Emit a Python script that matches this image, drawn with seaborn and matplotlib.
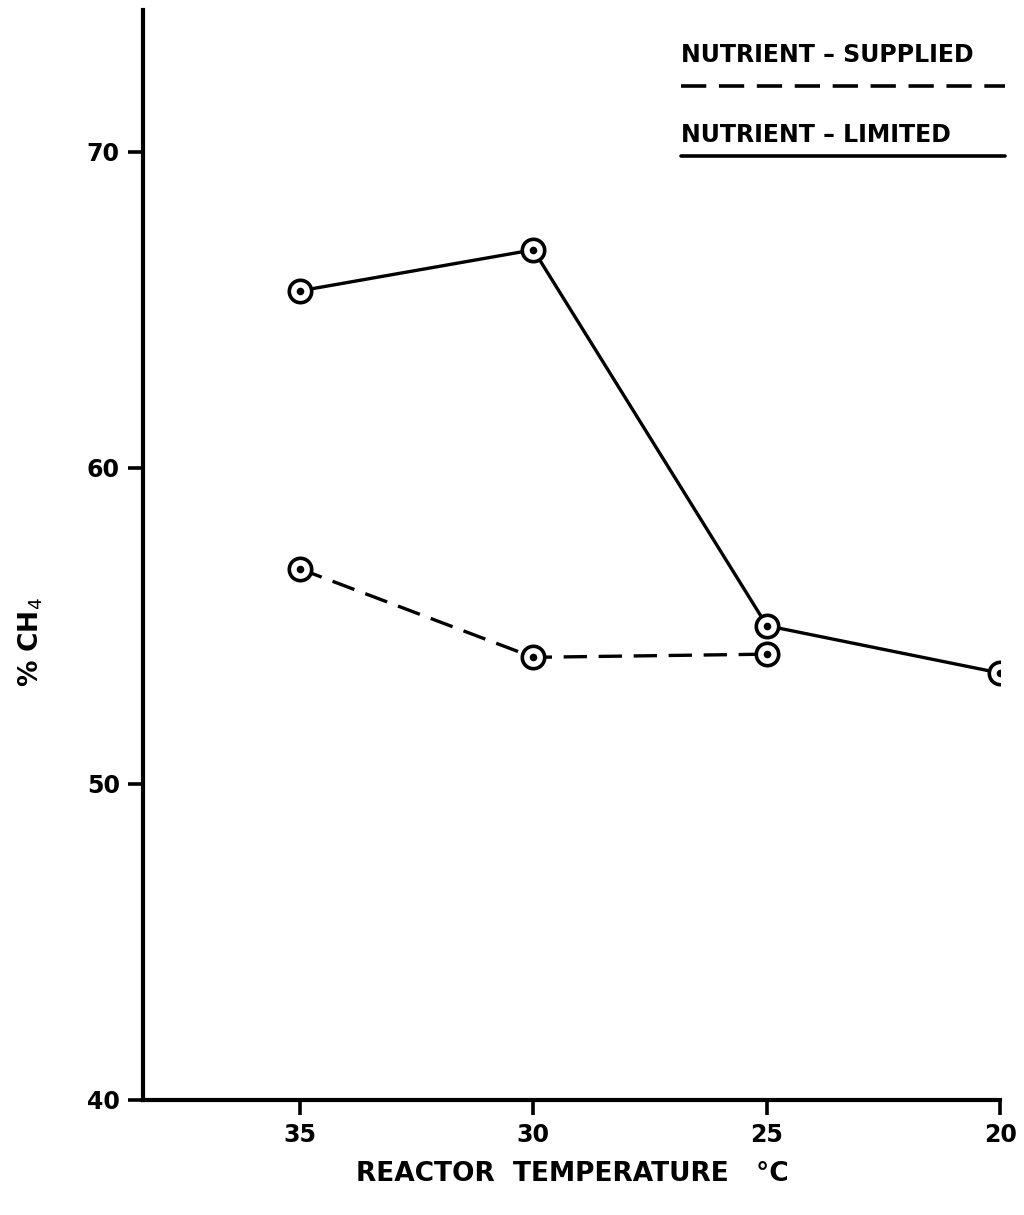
import matplotlib
matplotlib.use("Agg")
import matplotlib.pyplot as plt
import seaborn as sns
import pandas as pd

# Methane content of reactor gas versus reactor temperature
temps_limited = [35, 30, 25, 20]
ch4_limited = [65.6, 66.9, 55.0, 53.5]
temps_supplied = [35, 30, 25]
ch4_supplied = [56.8, 54.0, 54.1]
x_ticks = [35, 30, 25, 20]
y_ticks = [40, 50, 60, 70]

df = pd.concat([
    pd.DataFrame({"temp": temps_limited, "ch4": ch4_limited, "series": "limited"}),
    pd.DataFrame({"temp": temps_supplied, "ch4": ch4_supplied, "series": "supplied"}),
], ignore_index=True)

sns.set_style("ticks")
plt.rcParams["font.family"] = ["DejaVu Sans"]
plt.rcParams["mathtext.fontset"] = "dejavusans"
plt.rcParams["text.color"] = "black"
plt.rcParams["axes.labelcolor"] = "black"

fig = plt.figure(figsize=(10.24, 12.15), dpi=100)
ax = fig.add_axes([0.14, 0.095, 0.837, 0.897])

sns.lineplot(data=df, x="temp", y="ch4", style="series",
             dashes={"limited": "", "supplied": (7, 3.5)},
             color="black", linewidth=2.4, sort=False, legend=False,
             estimator=None, ax=ax)
sns.scatterplot(data=df, x="temp", y="ch4", marker="o", s=260,
                facecolor="white", edgecolor="black", linewidth=2.6,
                legend=False, ax=ax, zorder=3)
sns.scatterplot(data=df, x="temp", y="ch4", marker="o", s=30,
                color="black", linewidth=0, legend=False, ax=ax, zorder=4)

ax.set_xlim(38.35, 20)
ax.set_ylim(40, 74.5)
ax.set_xticks(x_ticks)
ax.set_yticks(y_ticks)
ax.set_xticklabels([str(t) for t in x_ticks], fontweight="bold")
ax.set_yticklabels([str(t) for t in y_ticks], fontweight="bold")

for side in ("top", "right"):
    ax.spines[side].set_visible(False)
for side in ("left", "bottom"):
    ax.spines[side].set_linewidth(3)
    ax.spines[side].set_color("black")
ax.tick_params(axis="both", direction="out", length=11, width=2.6,
               labelsize=17, colors="black", pad=6)

ax.set_xlabel("REACTOR  TEMPERATURE   °C", fontsize=19, fontweight="bold",
              labelpad=10)
ax.set_ylabel("% CH$_4$", fontsize=19, fontweight="bold")
ax.yaxis.set_label_coords(-0.115, 0.42)

# Key in the upper right, each entry underlined with its line style
ax.text(0.627, 0.958, "NUTRIENT – SUPPLIED", transform=ax.transAxes,
        fontsize=17, fontweight="bold", ha="left", va="center")
ax.plot([0.627, 1.005], [0.93, 0.93], transform=ax.transAxes,
        color="black", lw=2.6, ls=(0, (7, 3.5)), clip_on=False)
ax.text(0.627, 0.885, "NUTRIENT – LIMITED", transform=ax.transAxes,
        fontsize=17, fontweight="bold", ha="left", va="center")
ax.plot([0.627, 1.005], [0.866, 0.866], transform=ax.transAxes,
        color="black", lw=2.6, clip_on=False)

fig.savefig("out.png", dpi=100, facecolor="white")
